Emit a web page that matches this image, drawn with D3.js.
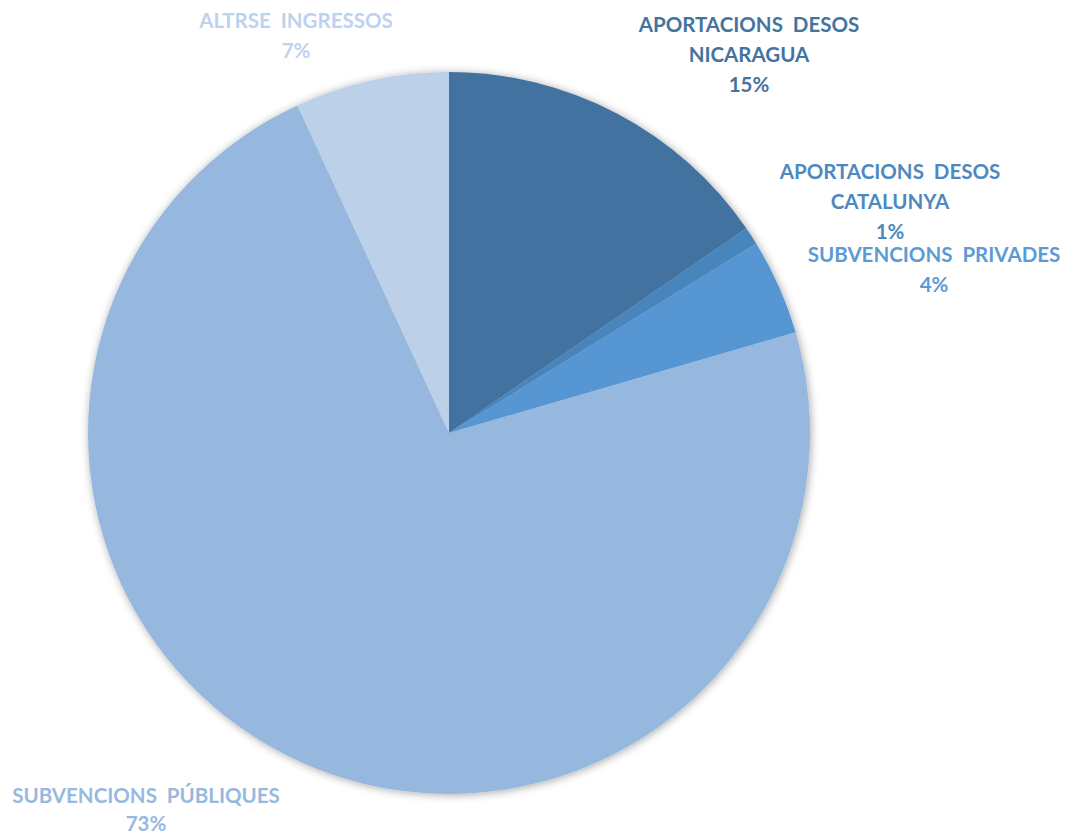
<!DOCTYPE html>
<html>
<head>
<meta charset="utf-8">
<script src="https://cdn.jsdelivr.net/npm/d3@7"></script>
<style>
  body { margin: 0; background: #fff; }
</style>
</head>
<body>
<script>
// slices go clockwise from 12 o'clock
const categories = ["APORTACIONS DESOS NICARAGUA", "APORTACIONS DESOS CATALUNYA", "SUBVENCIONS PRIVADES", "SUBVENCIONS PÚBLIQUES", "ALTRSE INGRESSOS"];
const values = [15.4, 0.8, 4.3, 72.6, 6.9];
// label lines as shown in the chart
const labelLines = [
  ["APORTACIONS  DESOS", "NICARAGUA"],
  ["APORTACIONS  DESOS", "CATALUNYA"],
  ["SUBVENCIONS  PRIVADES"],
  ["SUBVENCIONS  PÚBLIQUES"],
  ["ALTRSE  INGRESSOS"]
];
const sliceColors = ["#43729f", "#4a85bd", "#5797d3", "#97b8de", "#bdd0ea"];
const labelColors = ["#44739f", "#4e88c2", "#5b9bd5", "#97b9e0", "#bdd2ee"];
// label anchor (center of first line)
const labelPos = [[749, 24], [890, 171], [934, 254], [146, 795], [296, 20]];

const W = 1070, H = 837;
const cx = 449, cy = 433, R = 361;

const svg = d3.select("body").append("svg")
    .attr("width", W)
    .attr("height", H);

const defs = svg.append("defs");
const f = defs.append("filter").attr("id", "shadow")
    .attr("x", "-10%").attr("y", "-10%").attr("width", "120%").attr("height", "120%");
f.append("feDropShadow")
    .attr("dx", 1).attr("dy", 1)
    .attr("stdDeviation", 4)
    .attr("flood-color", "#000")
    .attr("flood-opacity", 0.35);

const pie = d3.pie().sort(null).value(d => d);
const arc = d3.arc().innerRadius(0).outerRadius(R);
const total = d3.sum(values);

const g = svg.append("g")
    .attr("transform", `translate(${cx},${cy})`)
    .attr("filter", "url(#shadow)");

g.selectAll("path")
    .data(pie(values))
    .join("path")
    .attr("d", arc)
    .attr("fill", (d, i) => sliceColors[i]);

// labels
const lineH = 30;
categories.forEach((c, i) => {
  const t = svg.append("text")
      .attr("x", labelPos[i][0])
      .attr("y", labelPos[i][1])
      .attr("text-anchor", "middle")
      .attr("dominant-baseline", "central")
      .style("font-family", "Lato, 'Open Sans', sans-serif")
      .style("font-weight", "bold")
      .style("font-size", "20.5px")
      .style("white-space", "pre")
      .attr("fill", labelColors[i]);
  const lines = labelLines[i].concat([Math.round(values[i] / total * 100) + "%"]);
  // the bottom label sits close to the edge, so its lines are packed a bit tighter
  const step = i === 3 ? 28 : lineH;
  lines.forEach((s, k) => {
    t.append("tspan")
      .attr("x", labelPos[i][0])
      .attr("y", labelPos[i][1] + k * step)
      .text(s);
  });
});
</script>
</body>
</html>
